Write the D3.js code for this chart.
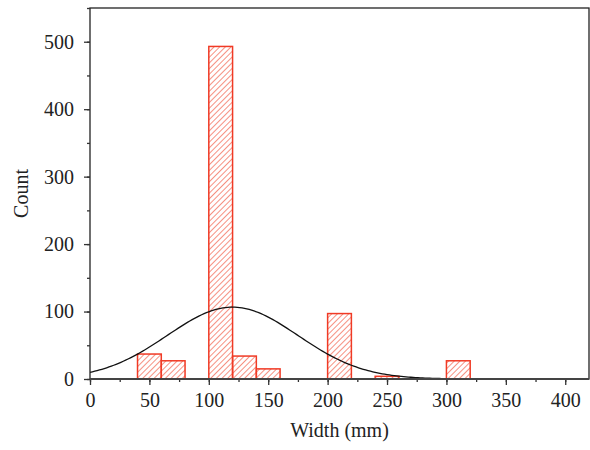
<!DOCTYPE html>
<html>
<head>
<meta charset="utf-8">
<script src="https://cdn.jsdelivr.net/npm/d3@7"></script>
<style>
  body { margin: 0; background: #fff; }
  text { font-family: "Liberation Serif", "DejaVu Serif", serif; fill: #222; }
</style>
</head>
<body>
<svg width="590" height="450"></svg>
<script>
// histogram bins (start of bin, 20 mm wide) and counts
var binStarts = [40, 60, 100, 120, 140, 200, 240, 300];
var counts = [37, 27, 493, 34, 15, 97, 4, 27];
var binWidth = 20;

// normal fit
var fitMean = 120;
var fitSd = 55;

var xTicks = [0, 50, 100, 150, 200, 250, 300, 350, 400];
var yTicks = [0, 100, 200, 300, 400, 500];

var margin = { top: 8, right: 1, bottom: 71, left: 90 };
var width = 590;
var height = 450;

var svg = d3.select("svg");

var x = d3.scaleLinear().domain([0, 420]).range([margin.left, width - margin.right]);
var y = d3.scaleLinear().domain([0, 550]).range([height - margin.bottom, margin.top]);

// hatch pattern for the bars
var defs = svg.append("defs");
defs.append("pattern")
  .attr("id", "hatch")
  .attr("patternUnits", "userSpaceOnUse")
  .attr("width", 4)
  .attr("height", 4)
  .attr("patternTransform", "rotate(45)")
  .append("line")
  .attr("x1", 0).attr("y1", 0)
  .attr("x2", 0).attr("y2", 4)
  .attr("stroke", "#f2543d")
  .attr("stroke-width", 1.3);

var bars = binStarts.map((b, i) => ({ start: b, count: counts[i] }));

svg.selectAll(".bar")
  .data(bars)
  .enter()
  .append("rect")
  .classed("bar", true)
  .attr("x", (d) => x(d.start))
  .attr("y", (d) => y(d.count))
  .attr("width", (d) => x(d.start + binWidth) - x(d.start))
  .attr("height", (d) => y(0) - y(d.count))
  .attr("fill", "url(#hatch)")
  .attr("stroke", "#f03a25")
  .attr("stroke-width", 1.5);

// normal curve scaled to the histogram
var total = d3.sum(counts);
var curveX = d3.range(0, 420.5, 2);
var curveData = curveX.map((v) => ({
  x: v,
  y: total * binWidth / (fitSd * Math.sqrt(2 * Math.PI)) *
     Math.exp(-((v - fitMean) ** 2) / (2 * fitSd * fitSd))
}));

var line = d3.line().x((d) => x(d.x)).y((d) => y(d.y));
svg.append("path")
  .datum(curveData)
  .attr("d", line)
  .attr("fill", "none")
  .attr("stroke", "#111")
  .attr("stroke-width", 1.3);

// frame
svg.append("rect")
  .attr("x", x(0))
  .attr("y", y(550))
  .attr("width", x(420) - x(0))
  .attr("height", y(0) - y(550))
  .attr("fill", "none")
  .attr("stroke", "#222")
  .attr("stroke-width", 1.3);

// x axis
var xAxis = svg.append("g").attr("transform", `translate(0, ${y(0)})`);
xAxis.call(d3.axisBottom(x).tickValues(d3.range(0, 420, 25)).tickSize(3).tickFormat(""))
  .call((g) => g.select(".domain").remove());
var xMajor = xAxis.append("g")
  .call(d3.axisBottom(x).tickValues(xTicks).tickSize(6).tickPadding(8));
xMajor.select(".domain").remove();
xMajor.attr("font-size", 20).attr("font-family", "Liberation Serif, serif");
xAxis.append("line")
  .attr("x1", x(0)).attr("x2", x(420))
  .attr("stroke", "#444")
  .attr("stroke-width", 2);

// y axis
var yAxis = svg.append("g").attr("transform", `translate(${x(0)}, 0)`);
yAxis.call(d3.axisLeft(y).tickValues(d3.range(0, 551, 50)).tickSize(3).tickFormat(""))
  .call((g) => g.select(".domain").remove());
var yMajor = yAxis.append("g")
  .call(d3.axisLeft(y).tickValues(yTicks).tickSize(6).tickPadding(10));
yMajor.select(".domain").remove();
yMajor.attr("font-size", 20).attr("font-family", "Liberation Serif, serif");

svg.selectAll(".tick line").attr("stroke", "#333").attr("stroke-width", 1.3);
svg.selectAll(".tick text").attr("fill", "#222");

// axis titles
svg.append("text")
  .attr("x", (x(0) + x(420)) / 2)
  .attr("y", 437)
  .attr("text-anchor", "middle")
  .attr("font-size", 20)
  .text("Width (mm)");

svg.append("text")
  .attr("transform", `translate(28, ${(y(0) + y(550)) / 2}) rotate(-90)`)
  .attr("text-anchor", "middle")
  .attr("font-size", 20)
  .text("Count");
</script>
</body>
</html>
